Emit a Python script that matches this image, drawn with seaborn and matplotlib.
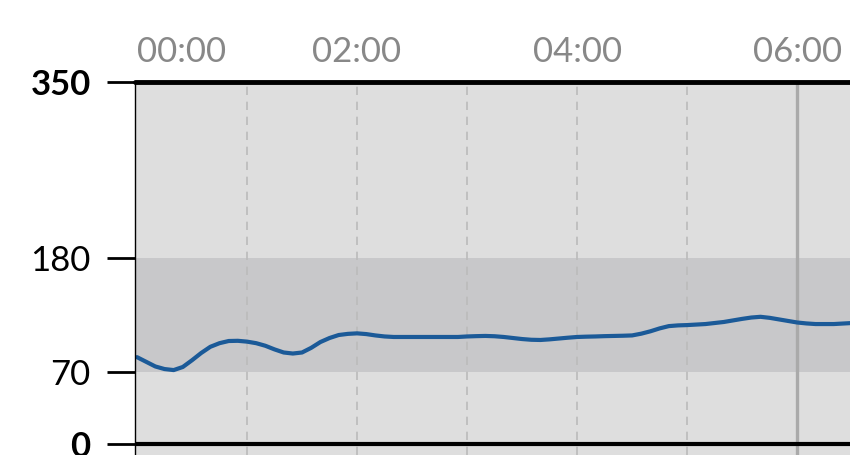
import matplotlib
matplotlib.use("Agg")
import matplotlib.pyplot as plt
import seaborn as sns
import pandas as pd

# glucose readings, one every 5 minutes from 00:00
minutes = list(range(0, 395, 5))
glucose = [84, 79.5, 75, 72.5, 71.5, 74.5, 81, 88, 94, 97.5,
           99.6, 99.8, 99, 97.5, 95, 91.5, 88.5, 87.5, 88.5, 93,
           98.6, 102.5, 105.4, 106.5, 107, 106.3, 105, 104, 103.5, 103.5,
           103.5, 103.5, 103.5, 103.5, 103.5, 103.5, 104, 104.3, 104.5, 104.2,
           103.5, 102.5, 101.5, 100.8, 100.6, 101.2, 102, 102.8, 103.5, 103.8,
           104, 104.3, 104.5, 104.7, 105, 106.7, 109, 111.8, 114, 114.7,
           115, 115.5, 116, 117, 118, 119.5, 121, 122.3, 123, 122,
           120.5, 119, 117.5, 116.6, 116, 116, 116, 116.5, 117]
y_ticks = [0, 70, 180, 350]
hour_labels = ["00:00", "02:00", "04:00", "06:00"]
target_low, target_high = 70, 180

df = pd.DataFrame({"hours": [m / 60 for m in minutes], "glucose": glucose})

sns.set_style("white")
plt.rcParams["font.family"] = ["Lato", "DejaVu Sans"]

fig = plt.figure(figsize=(8.5, 4.55), dpi=100)
ax = fig.add_axes([135 / 850, 0, 1 - 135 / 850, 1 - 82 / 455])
ax.set_facecolor("#dedede")

ax.axhspan(target_low, target_high, color="#c8c8ca", lw=0, zorder=0)
for h in range(1, 7):
    if h == 6:
        ax.axvline(h, color="#aaaaaa", lw=2.4, zorder=1)
    else:
        ax.axvline(h, color="#bbbbbb", lw=1.2, ls=(0, (5, 4)), zorder=1)
ax.axhline(0, color="black", lw=3, zorder=3)
ax.axhline(350, color="black", lw=3.5, zorder=3, clip_on=False)

sns.lineplot(data=df, x="hours", y="glucose", color="#1b5a98", lw=3, ax=ax, zorder=2)

ax.set_xlim(-0.018, 6.48)
ax.set_ylim(-10.6, 350)
ax.set_xlabel("")
ax.set_ylabel("")

ax.set_yticks(y_ticks)
ax.set_yticklabels([str(v) for v in y_ticks], fontsize=25, color="black")
for lbl, v in zip(ax.get_yticklabels(), y_ticks):
    if v in (0, 350):
        lbl.set_fontweight("bold")
ax.tick_params(axis="y", length=20, width=2, color="black", pad=12, left=True)

ax.xaxis.tick_top()
ax.set_xticks([0, 2, 4, 6])
ax.set_xticklabels(hour_labels, fontsize=25, color="#888888")
ax.get_xticklabels()[0].set_horizontalalignment("left")
ax.tick_params(axis="x", length=0, pad=10)

for side in ["top", "right", "bottom"]:
    ax.spines[side].set_visible(False)
ax.spines["left"].set_color("black")
ax.spines["left"].set_linewidth(1)

fig.savefig("out.png", dpi=100)
